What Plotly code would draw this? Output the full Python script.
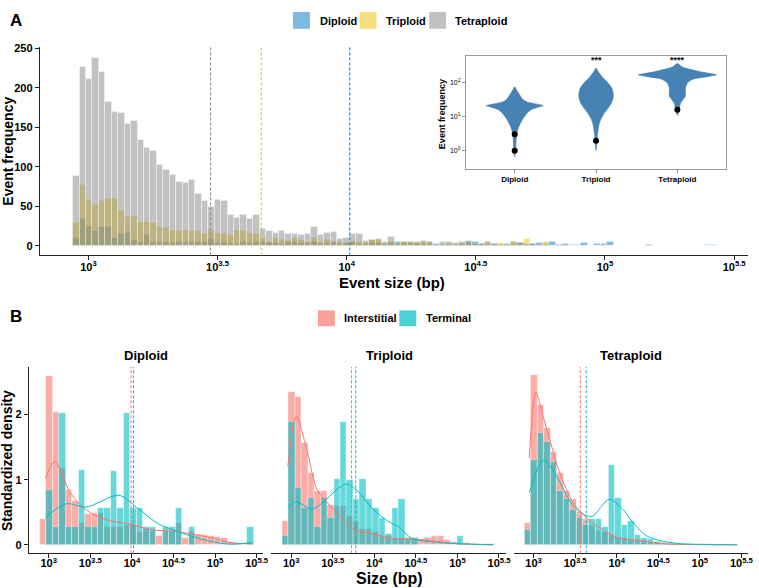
import numpy as np
import plotly.graph_objects as go

# ---------------- Panel A data (100 bins of log10 event size) ----------------
A_BIN_START = 2.94      # left edge of first bin (log10 bp)
A_BIN_WIDTH = 0.02491   # bin width (log10 bp)

tetraploid_counts = [89, 227, 212, 238, 220, 183, 170, 168, 155, 159,
                     134, 124, 121, 103, 96, 90, 81, 80, 84, 66,
                     57, 50, 59, 57, 40, 36, 39, 35, 39, 22,
                     20, 17, 20, 16, 15, 14, 16, 25, 14, 17,
                     18, 9, 10, 15, 15, 7, 8, 9, 6, 12,
                     3, 6, 6, 5, 7, 5, 2, 5, 6, 4,
                     5, 7, 3, 3, 5, 3, 2, 2, 5, 4,
                     3, 3, 2, 2, 1, 2, 2, 1, 1, 1,
                     1, 1, 1, 1, 0, 1, 0, 1, 0, 2,
                     0, 0, 0, 0, 0, 0, 0, 0, 1, 1]
triploid_counts = [29, 77, 59, 52, 57, 60, 60, 45, 37, 38,
                   29, 31, 30, 25, 23, 19, 20, 21, 19, 20,
                   15, 21, 17, 16, 14, 19, 19, 17, 16, 10,
                   6, 10, 8, 7, 11, 8, 6, 11, 6, 8,
                   6, 5, 3, 5, 6, 4, 8, 8, 3, 6,
                   2, 6, 5, 4, 6, 5, 1, 2, 3, 2,
                   3, 4, 2, 1, 5, 2, 4, 1, 5, 2,
                   9, 1, 1, 5, 1, 0, 1, 0, 0, 1,
                   0, 0, 1, 0, 0, 0, 0, 0, 0, 0,
                   0, 0, 0, 0, 0, 0, 0, 0, 0, 0]
diploid_counts = [11, 34, 25, 20, 25, 25, 10, 15, 18, 8,
                  5, 14, 5, 5, 6, 4, 5, 5, 5, 6,
                  6, 8, 4, 5, 4, 3, 5, 4, 6, 5,
                  4, 4, 3, 6, 6, 4, 4, 5, 3, 4,
                  6, 3, 4, 6, 3, 3, 4, 4, 3, 4,
                  5, 3, 3, 3, 3, 3, 3, 2, 2, 2,
                  3, 5, 6, 3, 2, 3, 2, 3, 2, 4,
                  2, 3, 4, 3, 5, 2, 3, 2, 2, 4,
                  1, 3, 3, 5, 1, 1, 1, 1, 1, 2,
                  1, 0, 0, 1, 1, 0, 1, 1, 2, 2]
ploidy_names = ["Diploid", "Triploid", "Tetraploid"]
ploidy_colors = ["#0073C2", "#EFC000", "#868686"]
ploidy_median_log = [4.012, 3.669, 3.473]   # dashed lines

a_ticks = [3, 3.5, 4, 4.5, 5, 5.5]
a_ticktext = ["10<sup>3</sup>", "10<sup>3.5</sup>", "10<sup>4</sup>",
              "10<sup>4.5</sup>", "10<sup>5</sup>", "10<sup>5.5</sup>"]

# ---------------- Inset violin data ----------------
vio_log_dip = [1.87, 1.75, 1.6, 1.5, 1.42, 1.36, 1.32, 1.28, 1.2, 1.1, 1.0, 0.85, 0.7, 0.55, 0.4, 0.2, 0.0, -0.17]
vio_w_dip = [0.0, 0.03, 0.07, 0.10, 0.16, 0.28, 0.35, 0.30, 0.20, 0.15, 0.12, 0.08, 0.05, 0.03, 0.02, 0.015, 0.012, 0.0]
vio_log_tri = [2.42, 2.3, 2.15, 2.0, 1.85, 1.7, 1.55, 1.4, 1.25, 1.1, 0.95, 0.8, 0.6, 0.4, 0.2, 0.0]
vio_w_tri = [0.0, 0.03, 0.08, 0.14, 0.19, 0.21, 0.21, 0.19, 0.15, 0.10, 0.065, 0.04, 0.025, 0.015, 0.01, 0.0]
vio_log_tet = [2.55, 2.45, 2.38, 2.3, 2.22, 2.16, 2.1, 2.0, 1.85, 1.7, 1.6, 1.5, 1.4, 1.25, 1.1, 1.03]
vio_w_tet = [0.0, 0.06, 0.16, 0.30, 0.48, 0.35, 0.20, 0.13, 0.10, 0.10, 0.10, 0.07, 0.04, 0.025, 0.01, 0.0]

box_q1_log = [1.0, 1.30, 1.97]
box_med_log = [1.22, 1.565, 2.17]
box_q3_log = [1.33, 1.83, 2.22]
box_lo_log = [0.77, 0.97, 1.58]
box_hi_log = [1.63, 2.07, 2.36]
outlier_group = [1, 1, 2, 3]
outlier_log = [0.48, 0.0, 0.29, 1.2]
signif_group = [2, 3]
signif_text = ["***", "****"]

# ---------------- Panel B data (33 bins) ----------------
B_BIN_START = 2.888
B_BIN_WIDTH = 0.078
dip_inter = [0.40, 2.59, 2.04, 1.18, 0.84, 0.67, 0.34, 0.47, 0.49, 0.49, 0.28,
             0.28, 0.28, 0.30, 0.30, 0.20, 0.24, 0.22, 0.14, 0.22, 0.20, 0.34,
             0.10, 0.20, 0.16, 0.16, 0.14, 0.12, 0.10, 0.05, 0.03, 0.03, 0.05]
dip_term = [0, 0.85, 0.28, 2.02, 0.28, 0.28, 1.15, 0.28, 0.28, 0.57, 0.57,
            1.14, 0.57, 2.02, 0.57, 0.57, 0.28, 0.28, 0, 0.28, 0.28, 0.57,
            0, 0.28, 0, 0, 0, 0, 0, 0, 0, 0, 0.28]
tri_inter = [0.37, 2.35, 2.27, 1.57, 1.10, 0.83, 0.83, 0.62, 0.60, 0.60, 0.45,
             0.35, 0.25, 0.25, 0.20, 0.13, 0.13, 0.10, 0.10, 0.10, 0.10, 0.08,
             0.10, 0.14, 0.14, 0.07, 0.05, 0.03, 0.03, 0.02, 0.02, 0.01, 0.01]
tri_term = [0.14, 1.89, 0.87, 0.57, 0.72, 0.27, 0.72, 0.42, 1.01, 1.89, 1.00,
            0.71, 1.01, 0.71, 0.57, 0.42, 0.17, 0.57, 0.71, 0.10, 0.10, 0,
            0, 0, 0, 0, 0, 0.14, 0, 0, 0, 0, 0]
tet_inter = [0.33, 2.60, 2.14, 1.79, 1.42, 1.10, 0.83, 0.70, 0.50, 0.40, 0.30,
             0.22, 0.20, 0.15, 0.12, 0.10, 0.08, 0.08, 0.06, 0.05, 0.04, 0.03,
             0.03, 0.02, 0.02, 0.02, 0.01, 0.01, 0.01, 0.005, 0.005, 0.005, 0.005]
tet_term = [0.23, 1.30, 1.71, 1.58, 1.28, 0.83, 0.70, 0.53, 0.42, 0.31, 0.40,
            0.40, 0.28, 1.22, 0.72, 0.31, 0.37, 0.16, 0.11, 0.09, 0.05, 0.03,
            0.02, 0.01, 0, 0, 0, 0, 0, 0, 0, 0, 0]

# density curves (log10 size, density)
dens_dip_inter_x = [2.96, 3.07, 3.25, 3.37, 3.53, 3.73, 4.0, 4.24, 4.48, 4.71, 4.95, 5.19, 5.43]
dens_dip_inter_y = [1.02, 1.28, 0.82, 0.62, 0.47, 0.37, 0.31, 0.23, 0.21, 0.17, 0.11, 0.03, 0.02]
dens_dip_term_x = [2.96, 3.21, 3.45, 3.845, 4.08, 4.32, 4.56, 4.8, 5.04, 5.19, 5.43]
dens_dip_term_y = [0.42, 0.63, 0.58, 0.76, 0.55, 0.32, 0.20, 0.10, 0.03, 0.01, 0.03]
dens_tri_inter_x = [2.96, 3.06, 3.2, 3.31, 3.47, 3.65, 3.78, 3.98, 4.18, 4.37, 4.57, 4.77, 4.96, 5.43]
dens_tri_inter_y = [1.2, 1.98, 1.4, 0.85, 0.6, 0.35, 0.22, 0.17, 0.10, 0.08, 0.08, 0.05, 0.02, 0.0]
dens_tri_term_x = [2.96, 3.06, 3.26, 3.65, 3.78, 3.98, 4.18, 4.29, 4.45, 4.65, 4.96, 5.43]
dens_tri_term_y = [0.57, 0.66, 0.55, 0.93, 0.85, 0.55, 0.35, 0.28, 0.10, 0.05, 0.02, 0.0]
dens_tet_inter_x = [2.949, 3.028, 3.119, 3.198, 3.316, 3.475, 3.633, 3.752, 3.87, 4.03, 4.27, 4.46, 4.66, 5.45]
dens_tet_inter_y = [1.33, 2.34, 1.95, 1.6, 1.1, 0.65, 0.42, 0.3, 0.2, 0.1, 0.07, 0.03, 0.01, 0.0]
dens_tet_term_x = [2.949, 3.119, 3.277, 3.475, 3.633, 3.712, 3.91, 4.07, 4.19, 4.345, 4.5, 4.74, 5.45]
dens_tet_term_y = [0.8, 1.3, 1.05, 0.6, 0.45, 0.44, 0.7, 0.55, 0.35, 0.15, 0.07, 0.02, 0.0]

b_median_inter = [3.99, 3.726, 3.562]
b_median_term = [4.02, 3.777, 3.633]
facet_names = ["Diploid", "Triploid", "Tetraploid"]
pos_names = ["Interstitial", "Terminal"]
pos_colors = ["#F8766D", "#00BFC4"]

# ---------------- Figure ----------------
W, H = 759, 588
FONT = "Liberation Sans, Arial, sans-serif"
DASH = "3px,2px"


def px(x):
    return x / W


def py(y):
    return 1 - y / H


fig = go.Figure()

# Panel A histogram
a_centers = A_BIN_START + A_BIN_WIDTH * (np.arange(len(tetraploid_counts)) + 0.5)
for name, counts, col in zip(ploidy_names, [diploid_counts, triploid_counts, tetraploid_counts], ploidy_colors):
    fig.add_trace(go.Bar(x=a_centers, y=counts, width=A_BIN_WIDTH, marker_color=col,
                         marker_line=dict(color="white", width=0.4), opacity=0.5,
                         name=name, xaxis="x", yaxis="y"))

# Inset violins
vios = [(vio_log_dip, vio_w_dip), (vio_log_tri, vio_w_tri), (vio_log_tet, vio_w_tet)]
for i, (lg, w) in enumerate(vios):
    pos = i + 1
    lg = np.array(lg)
    w = np.array(w)
    xs = np.concatenate([pos + w, (pos - w)[::-1]])
    ys = 10 ** np.concatenate([lg, lg[::-1]])
    fig.add_trace(go.Scatter(x=xs, y=ys, fill="toself", fillcolor="#4682B4", mode="lines",
                             line=dict(color="#4682B4", width=0.6, shape="spline", smoothing=0.6),
                             xaxis="x2", yaxis="y2", hoverinfo="skip"))

fig.add_trace(go.Box(x=[1, 2, 3],
                     q1=[10 ** v for v in box_q1_log], median=[10 ** v for v in box_med_log],
                     q3=[10 ** v for v in box_q3_log], lowerfence=[10 ** v for v in box_lo_log],
                     upperfence=[10 ** v for v in box_hi_log],
                     width=0.09, whiskerwidth=0, fillcolor="rgba(0,0,0,0)",
                     line=dict(color="black", width=1), boxpoints=False,
                     xaxis="x2", yaxis="y2"))
fig.add_trace(go.Scatter(x=outlier_group, y=[10 ** v for v in outlier_log], mode="markers",
                         marker=dict(color="black", size=6), xaxis="x2", yaxis="y2"))

# Panel B histograms + densities
b_centers = B_BIN_START + B_BIN_WIDTH * (np.arange(len(dip_inter)) + 0.5)
facet_bars = [(dip_inter, dip_term), (tri_inter, tri_term), (tet_inter, tet_term)]
facet_dens = [((dens_dip_inter_x, dens_dip_inter_y), (dens_dip_term_x, dens_dip_term_y)),
              ((dens_tri_inter_x, dens_tri_inter_y), (dens_tri_term_x, dens_tri_term_y)),
              ((dens_tet_inter_x, dens_tet_inter_y), (dens_tet_term_x, dens_tet_term_y))]
for f in range(3):
    xa, ya = "x%d" % (f + 3), "y%d" % (f + 3)
    for g in range(2):
        fig.add_trace(go.Bar(x=b_centers, y=facet_bars[f][g], width=B_BIN_WIDTH,
                             marker_color=pos_colors[g], marker_line=dict(color="white", width=0.4),
                             opacity=0.6, xaxis=xa, yaxis=ya))
    for g in range(2):
        dx, dy = facet_dens[f][g]
        fig.add_trace(go.Scatter(x=dx, y=dy, mode="lines",
                                 line=dict(color=pos_colors[g], width=1, shape="spline", smoothing=0.8),
                                 xaxis=xa, yaxis=ya))

shapes = []
annotations = []

# Panel A dashed lines
for m, col in zip(ploidy_median_log, ploidy_colors):
    shapes.append(dict(type="line", xref="x", yref="y domain", x0=m, x1=m, y0=0, y1=1,
                       line=dict(color=col, width=1, dash=DASH)))
# Panel B dashed lines
for f in range(3):
    for m, col in zip([b_median_inter[f], b_median_term[f]], pos_colors):
        shapes.append(dict(type="line", xref="x%d" % (f + 3), yref="y%d domain" % (f + 3),
                           x0=m, x1=m, y0=0, y1=1, line=dict(color=col, width=1, dash=DASH)))

# Legend A
leg_a = [(295, 320), (362, 387), (432, 456)]
for (kx, tx), name, col in zip(leg_a, ploidy_names, ploidy_colors):
    shapes.append(dict(type="rect", xref="paper", yref="paper", x0=px(kx), x1=px(kx + 17),
                       y0=py(24), y1=py(7), fillcolor=col, opacity=0.5, line=dict(width=0)))
    annotations.append(dict(x=px(tx), y=py(16), text="<b>%s</b>" % name, font=dict(size=11)))
# Legend B
leg_b = [(320, 344), (402, 427)]
for (kx, tx), name, col in zip(leg_b, pos_names, pos_colors):
    shapes.append(dict(type="rect", xref="paper", yref="paper", x0=px(kx), x1=px(kx + 17),
                       y0=py(324), y1=py(308), fillcolor=col, opacity=0.7, line=dict(width=0)))
    annotations.append(dict(x=px(tx), y=py(316), text="<b>%s</b>" % name, font=dict(size=11)))

# Panel labels and titles
annotations += [
    dict(x=px(8), y=py(16), text="<b>A</b>", font=dict(size=17)),
    dict(x=px(8), y=py(314), text="<b>B</b>", font=dict(size=17)),
    dict(x=px(395), y=py(280), text="<b>Event size (bp)</b>", font=dict(size=15), xanchor="center"),
    dict(x=px(8), y=py(147), text="<b>Event frequency</b>", font=dict(size=14), textangle=-90, xanchor="center"),
    dict(x=px(445), y=py(110), text="<b>Event frequency</b>", font=dict(size=9), textangle=-90, xanchor="center"),
    dict(x=px(392), y=py(578), text="<b>Size (bp)</b>", font=dict(size=16), xanchor="center"),
    dict(x=px(7), y=py(459), text="<b>Standardized density</b>", font=dict(size=14), textangle=-90, xanchor="center"),
]
for a in annotations:
    a.setdefault("xref", "paper")
    a.setdefault("yref", "paper")
    a.setdefault("showarrow", False)
    a.setdefault("xanchor", "left")
    a.setdefault("yanchor", "middle")
facet_cx = [147, 392, 635]
for cx, name in zip(facet_cx, facet_names):
    annotations.append(dict(x=px(cx), y=py(354), xref="paper", yref="paper", text="<b>%s</b>" % name,
                            showarrow=False, xanchor="center", yanchor="middle", font=dict(size=13)))
for g, t in zip(signif_group, signif_text):
    annotations.append(dict(x=g, y=2.66, xref="x2", yref="y2", text="<b>%s</b>" % t, showarrow=False,
                            xanchor="center", yanchor="middle", font=dict(size=9)))

axis_common = dict(showgrid=False, zeroline=False, showline=True, linecolor="#222", linewidth=1,
                   ticks="outside", ticklen=4, tickcolor="#222", tickwidth=1)
b_ticktext = ["<b>%s</b>" % t for t in a_ticktext]

layout = dict(
    width=W, height=H, margin=dict(l=0, r=0, t=0, b=0),
    paper_bgcolor="white", plot_bgcolor="white", showlegend=False,
    barmode="overlay", bargap=0,
    font=dict(family=FONT, color="black"),
    shapes=shapes, annotations=annotations,
    xaxis=dict(domain=[px(40), px(753)], range=[2.8115, 5.554], anchor="y",
               tickvals=a_ticks, ticktext=b_ticktext, tickfont=dict(size=11),
               ticklabelstandoff=-3, **axis_common),
    yaxis=dict(domain=[py(252.6), py(42)], range=[-12, 252], anchor="x",
               tickvals=[0, 50, 100, 150, 200, 250],
               ticktext=["<b>%d</b>" % v for v in [0, 50, 100, 150, 200, 250]],
               tickfont=dict(size=11), **axis_common),
    xaxis2=dict(domain=[px(469), px(731)], range=[0.4, 3.6], anchor="y2",
                tickvals=[1, 2, 3], ticktext=["<b>%s</b>" % n for n in ploidy_names],
                tickfont=dict(size=8), showgrid=False, zeroline=False, showline=True, mirror=True,
                linecolor="#999", linewidth=1, ticks="outside", ticklen=3, tickcolor="#999"),
    yaxis2=dict(domain=[py(165), py(51)], type="log", range=[-0.522, 2.783], anchor="x2",
                tickvals=[1, 10, 100], ticktext=["10<sup>0</sup>", "10<sup>1</sup>", "10<sup>2</sup>"],
                tickfont=dict(size=7), showgrid=False, zeroline=False, showline=True, mirror=True,
                linecolor="#999", linewidth=1, ticks="outside", ticklen=3, tickcolor="#999"),
)
b_dom_x = [(29, 265), (273, 509), (517, 753)]
for f in range(3):
    k = f + 3
    layout["xaxis%d" % k] = dict(domain=[px(b_dom_x[f][0]), px(b_dom_x[f][1])], range=[2.76, 5.58],
                                 anchor="y%d" % k, tickvals=a_ticks, ticktext=b_ticktext,
                                 tickfont=dict(size=11), ticklabelstandoff=-4, **axis_common)
    ydict = dict(domain=[py(553), py(365)], range=[-0.13, 2.73], anchor="x%d" % k,
                 showgrid=False, zeroline=False)
    if f == 0:
        ydict.update(dict(showline=True, linecolor="#222", linewidth=1, ticks="outside", ticklen=4,
                          tickcolor="#222", tickvals=[0, 1, 2], ticktext=["<b>0</b>", "<b>1</b>", "<b>2</b>"],
                          tickfont=dict(size=11)))
    else:
        ydict.update(dict(showline=False, showticklabels=False, ticks=""))
    layout["yaxis%d" % k] = ydict

fig.update_layout(**layout)
fig.write_html("out.html", config={"displayModeBar": False},
               post_script="document.body.style.margin='0px';")
